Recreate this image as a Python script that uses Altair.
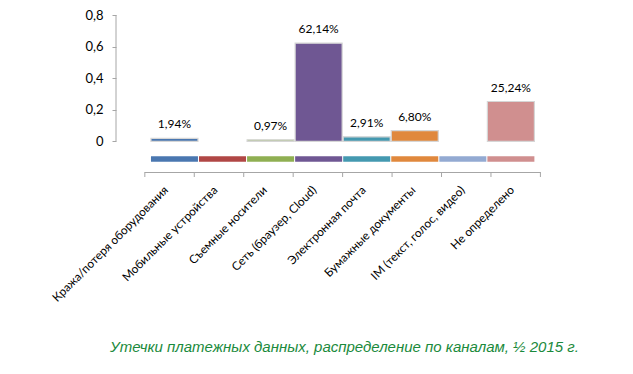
import altair as alt
import pandas as pd

categories = [
    "Кража/потеря оборудования",
    "Мобильные устройства",
    "Съемные носители",
    "Сеть (браузер, Cloud)",
    "Электронная почта",
    "Бумажные документы",
    "IM (текст, голос, видео)",
    "Не определено",
]
shares = [0.0194, 0.0, 0.0097, 0.6214, 0.0291, 0.0680, 0.0, 0.2524]
value_labels = ["1,94%", "", "0,97%", "62,14%", "2,91%", "6,80%", "", "25,24%"]
colors = ["#4A77B0", "#B04745", "#8FAF52", "#6F5793", "#4499B0", "#E0883D", "#93AAD2", "#D08F8F"]
y_ticks = [0, 0.2, 0.4, 0.6, 0.8]
caption = "Утечки платежных данных, распределение по каналам, ½ 2015 г."

df = pd.DataFrame({"cat": categories, "share": shares, "label": value_labels})
axis_df = pd.DataFrame({"lo": [y_ticks[0]], "hi": [y_ticks[-1]]})

W, H = 425, 157
FONT = "Lato"
GREY = "#a6a6a6"

y_scale = alt.Scale(domain=[-0.1937, 0.8], nice=False, zero=False)
bar_scale = alt.Scale(type="band", domain=categories, paddingInner=0.022, paddingOuter=0.4325, align=0.841)
tick_scale = alt.Scale(type="band", domain=categories, paddingInner=0, paddingOuter=0.2975, align=0.98)
color_enc = alt.Color("cat:N", scale=alt.Scale(domain=categories, range=colors), legend=None)

y_axis = alt.Axis(
    orient="left",
    values=y_ticks, labelExpr="replace(format(datum.value, '~g'), '.', ',')", domain=False, grid=False,
    tickSize=4, tickColor=GREY, labelPadding=9, labelFont=FONT, labelFontSize=13,
    labelColor="#000", title=None,
)

xb = alt.X("cat:N", sort=categories, scale=bar_scale, axis=None)

yline = alt.Chart(axis_df).mark_rule(color=GREY, strokeWidth=1).encode(
    x=alt.value(0), y=alt.Y("lo:Q", scale=y_scale, axis=y_axis), y2="hi:Q"
)

bars = alt.Chart(df).transform_filter("datum.share > 0").mark_bar(
    stroke="#d6d6d6", strokeWidth=1.2
).encode(x=xb, y=alt.Y("share:Q", scale=y_scale, axis=None), color=color_enc)

floor = alt.Chart(df).mark_bar().encode(
    x=xb,
    y=alt.YDatum(-0.094, scale=y_scale, axis=None),
    y2=alt.Y2Datum(-0.129),
    color=color_enc,
)

text = alt.Chart(df).transform_filter("datum.share > 0").mark_text(
    baseline="bottom", dy=-7, font=FONT, fontSize=12, color="#000"
).encode(
    x=alt.X("cat:N", sort=categories, scale=bar_scale, axis=None, bandPosition=0.5),
    y=alt.Y("share:Q", scale=y_scale, axis=None),
    text="label:N",
)

base_line = alt.Chart(df).mark_bar(color=GREY).encode(
    x=alt.X("cat:N", sort=categories, scale=tick_scale,
            axis=alt.Axis(orient="bottom", title=None, labelAngle=-45, ticks=False, domain=False,
                          labelPadding=12, labelOffset=-7, labelFont=FONT, labelFontSize=11.8,
                          labelColor="#000", labelLimit=0)),
    y=alt.value(H), y2=alt.value(H + 1),
)
tick_rules = alt.Chart(df).mark_rule(color=GREY).encode(
    x=alt.X("cat:N", sort=categories, scale=tick_scale, axis=None, bandPosition=0),
    y=alt.value(H), y2=alt.value(H + 5),
)
last_tick = alt.Chart(df).transform_filter(
    alt.datum.cat == categories[-1]
).mark_rule(color=GREY).encode(
    x=alt.X("cat:N", sort=categories, scale=tick_scale, axis=None, bandPosition=1),
    y=alt.value(H), y2=alt.value(H + 5),
)

chart = alt.layer(
    yline, bars, floor, text, base_line, tick_rules, last_tick
).resolve_scale(x="independent", y="independent").properties(
    width=W, height=H,
    background="white",
    autosize=alt.AutoSizeParams(type="none"),
    padding={"left": 108, "top": 7, "right": 84, "bottom": 195},
    title=alt.TitleParams(
        caption, orient="bottom", anchor="middle", frame="group", dx=16, offset=36,
        font="Liberation Sans", fontSize=15, fontStyle="italic", fontWeight="normal",
        color="#1A8A3C",
    ),
).configure_view(stroke=None)

chart.save("out.html", embed_options={"renderer": "svg", "actions": False})
